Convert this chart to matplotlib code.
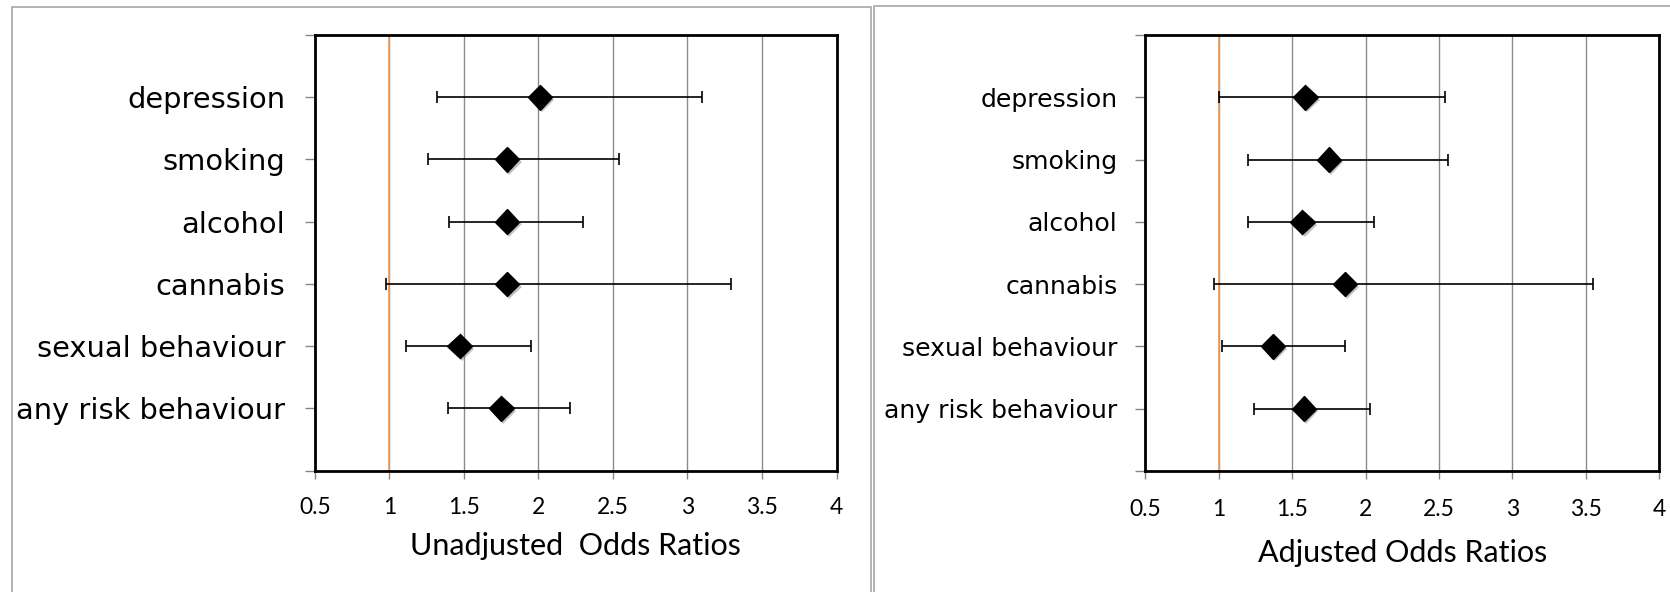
import numpy as np
import matplotlib
matplotlib.use("Agg")
import matplotlib.pyplot as plt
import matplotlib.patheffects as pe
from matplotlib.lines import Line2D

# categories, bottom to top
categories = ["any risk behaviour", "sexual behaviour", "cannabis",
              "alcohol", "smoking", "depression"]

# unadjusted odds ratios and 95% CI
or_unadj = [1.75, 1.47, 1.79, 1.79, 1.79, 2.01]
lo_unadj = [1.39, 1.11, 0.98, 1.40, 1.26, 1.32]
hi_unadj = [2.21, 1.95, 3.29, 2.30, 2.54, 3.10]

# adjusted odds ratios and 95% CI
or_adj = [1.58, 1.37, 1.86, 1.57, 1.75, 1.59]
lo_adj = [1.24, 1.02, 0.97, 1.20, 1.20, 1.00]
hi_adj = [2.03, 1.86, 3.55, 2.06, 2.56, 2.54]

x_ticks = [0.5, 1, 1.5, 2, 2.5, 3, 3.5, 4]
x_ticklabels = ["0.5", "1", "1.5", "2", "2.5", "3", "3.5", "4"]

CAT_FONT = ["DejaVu Sans"]
NUM_FONT = ["Lato", "DejaVu Sans"]


def forest(ax, orv, lo, hi, title, cat_size, cat_pad, xpad, tpad):
    y = np.arange(1, len(categories) + 1)
    orv = np.array(orv)
    xerr = [orv - np.array(lo), np.array(hi) - orv]

    ax.axvline(1, color="#F79646", linewidth=1.1, zorder=2)
    ax.errorbar(orv, y, xerr=xerr, fmt="none", ecolor="black",
                elinewidth=1.2, capsize=4.6, capthick=1.2, zorder=3)
    ax.plot(orv, y, linestyle="none", marker="D", markersize=12.5,
            color="black", zorder=4,
            path_effects=[pe.SimplePatchShadow(offset=(1.5, -2),
                                               shadow_rgbFace="#777777",
                                               alpha=0.45),
                          pe.Normal()])

    ax.set_xlim(0.5, 4)
    ax.set_ylim(0, 7)
    ax.set_xticks(x_ticks)
    ax.set_xticklabels(x_ticklabels, family=NUM_FONT, fontsize=16.5)
    ax.set_yticks(np.arange(0, 8))
    ax.set_yticklabels([""] + categories + [""], family=CAT_FONT,
                       fontsize=cat_size)

    ax.grid(axis="x", color="#8c8c8c", linewidth=1.0, zorder=1)
    ax.set_axisbelow(True)
    ax.tick_params(axis="y", length=7.5, width=1, color="#868686",
                   pad=cat_pad)
    ax.tick_params(axis="x", length=5.5, width=1, color="#868686", pad=xpad)
    for s in ax.spines.values():
        s.set_color("black")
        s.set_linewidth(2)

    ax.set_xlabel(title, family=NUM_FONT, fontsize=22, labelpad=tpad)


fig = plt.figure(figsize=(16.7, 5.92), dpi=100, facecolor="white")

ax1 = fig.add_axes([0.1886, 0.2049, 0.3123, 0.7360])
ax2 = fig.add_axes([0.6859, 0.2044, 0.3075, 0.7365])

forest(ax1, or_unadj, lo_unadj, hi_unadj, "Unadjusted  Odds Ratios",
       20.8, 14, 13.5, 10)
forest(ax2, or_adj, lo_adj, hi_adj, "Adjusted Odds Ratios",
       18.1, 12.5, 15, 13.5)

# chart area borders (Excel style)
W, H = 1670, 592
border = dict(color="#a6a6a6", linewidth=1.2, transform=fig.transFigure)
fig.add_artist(Line2D([12 / W, 12 / W, 871 / W, 871 / W],
                      [0, 1 - 7 / H, 1 - 7 / H, 0], **border))
fig.add_artist(Line2D([874 / W, 874 / W, 1],
                      [0, 1 - 6 / H, 1 - 6 / H], **border))

fig.savefig("out.png", dpi=100, facecolor="white")
